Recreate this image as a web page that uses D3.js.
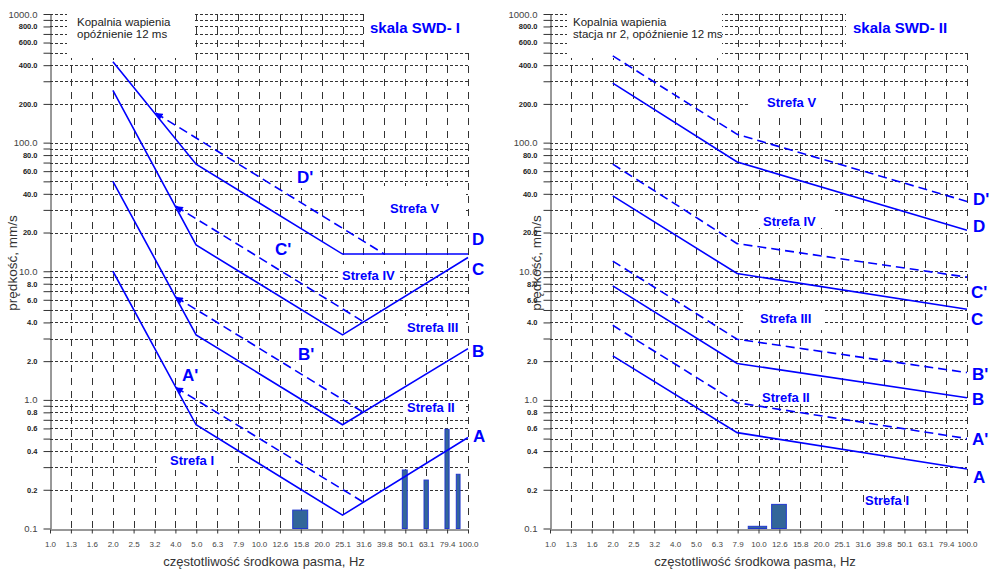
<!DOCTYPE html>
<html>
<head>
<meta charset="utf-8">
<script src="https://cdn.jsdelivr.net/npm/d3@7"></script>
<style>
  html, body { margin: 0; padding: 0; background: #fff; }
  svg { display: block; font-family: "Liberation Sans", Arial, sans-serif; }
</style>
</head>
<body>
<svg id="chart" width="990" height="569"></svg>
<script>
// ---- frequency axis: one-third-octave band labels (Hz) ----
const bandLabels = ["1.0","1.3","1.6","2.0","2.5","3.2","4.0","5.0","6.3","7.9","10.0",
                    "12.6","15.8","20.0","25.1","31.6","39.8","50.1","63.1","79.4","100.0"];

// ---- velocity axis (mm/s) ----
const velocityGrid = [0.2,0.3,0.4,0.5,0.6,0.7,0.8,0.9,1,2,3,4,5,6,7,8,9,10,
                      20,30,40,50,60,70,80,90,100,200,300,400,500,600,700,800,900,1000];
const velocityLabelled = [0.1,0.2,0.4,0.6,0.8,1,2,4,6,8,10,20,40,60,80,100,200,400,600,800,1000];
const velocityDecades = [0.1,1,10,100,1000];

// ---- SWD-I limit lines ----
const swd1Freq = [2.0, 5.0, 25.1, 100.0];
const swd1A = [10, 0.64, 0.127, 0.51];
const swd1B = [50, 3.2, 0.64, 2.5];
const swd1C = [255, 16, 3.2, 12.8];
const swd1D = [425, 68, 13.6, 13.6];
const swd1FreqDp = [3.2, 39.8];
const swd1Dp = [170, 13.6];
const swd1FreqPrime = [4.0, 31.6];
const swd1Ap = [1.25, 0.16];
const swd1Bp = [6.3, 0.8];
const swd1Cp = [32, 4.05];

// measured band spectrum, SWD-I station (band edges in Hz, peak velocity mm/s)
const swd1BarLow   = [14.5, 48.5, 61.6, 77.6, 87.9];
const swd1BarHigh  = [17.1, 51.2, 64.6, 81.2, 91.6];
const swd1BarValue = [0.139, 0.285, 0.238, 0.59, 0.264];

// ---- SWD-II limit lines ----
const swd2Freq = [2.0, 7.9, 100.0];
const swd2A  = [2.2, 0.556, 0.29];
const swd2Ap = [3.8, 0.95, 0.5];
const swd2B  = [7.7, 1.92, 1.04];
const swd2Bp = [12, 2.96, 1.63];
const swd2C  = [38.5, 9.6, 5.06];
const swd2Cp = [68, 16.4, 9.0];
const swd2D  = [290, 70.8, 20.8];
const swd2Dp = [473, 116, 34.9];

// measured band spectrum, station nr 2
const swd2BarLow   = [8.93, 11.56];
const swd2BarHigh  = [10.94, 13.6];
const swd2BarValue = [0.104, 0.154];

// ---------------------------------------------------------------
const zip = (xs, ys) => xs.map((v, i) => [v, ys[i]]);
const BLUE = "#0000ff";
const svg = d3.select("#chart");

const defs = svg.append("defs");
defs.append("marker")
  .attr("id", "arrowhead")
  .attr("viewBox", "0 0 10 10")
  .attr("refX", 10).attr("refY", 5)
  .attr("markerWidth", 8).attr("markerHeight", 7)
  .attr("markerUnits", "userSpaceOnUse")
  .attr("orient", "auto-start-reverse")
  .append("path").attr("d", "M0,0 L10,5 L0,10 z").attr("fill", BLUE);

const y = d3.scaleLog().domain([0.1, 1000]).range([528.5, 14]);
// nominal base-10 third-octave centre frequencies behind the rounded labels
const bandCentres = bandLabels.map((_, i) => Math.pow(10, i / 10));

function drawPanel(cfg) {
  const x = d3.scaleLog().domain([1, 100]).range([cfg.x0, cfg.x1]);
  const g = svg.append("g");
  const px = v => Math.round(v) + 0.5;

  // horizontal grid (dotted)
  g.append("g").selectAll("line").data(velocityGrid).join("line")
    .attr("x1", cfg.x0).attr("x2", cfg.x1)
    .attr("y1", d => px(y(d))).attr("y2", d => px(y(d)))
    .attr("stroke", "#333").attr("stroke-width", 1)
    .attr("stroke-dasharray", "3,2");

  // vertical grid (dashed)
  g.append("g").selectAll("line").data(bandCentres.slice(1)).join("line")
    .attr("x1", d => px(x(d))).attr("x2", d => px(x(d)))
    .attr("y1", y(1000)).attr("y2", y(0.1))
    .attr("stroke", "#333").attr("stroke-width", 1)
    .attr("stroke-dasharray", "7,6");

  // white label boxes laid over the grid
  g.append("g").selectAll("rect").data(cfg.boxes).join("rect")
    .attr("x", d => d[0]).attr("y", d => d[1])
    .attr("width", d => d[2]).attr("height", d => d[3])
    .attr("fill", "#fff");

  // y axis
  const yAxis = d3.axisLeft(y)
    .tickValues([0.1].concat(velocityGrid))
    .tickSize(7).tickSizeOuter(0).tickPadding(6)
    .tickFormat(d => velocityLabelled.some(v => Math.abs(v - d) < 1e-9) ? d3.format(".1f")(d) : "");
  const ya = g.append("g").attr("transform", `translate(${px(cfg.x0)},0)`).call(yAxis);
  ya.select(".domain").attr("stroke", "#333");
  ya.selectAll(".tick line").attr("stroke", "#333");
  ya.selectAll(".tick text")
    .attr("font-family", "'Liberation Sans', Arial, sans-serif")
    .attr("font-size", d => velocityDecades.includes(d) ? 9.5 : 7.5)
    .attr("font-weight", d => velocityDecades.includes(d) ? "normal" : "bold")
    .attr("fill", d => velocityDecades.includes(d) ? "#444" : "#222");

  // x axis
  const xAxis = d3.axisBottom(x)
    .tickValues(bandCentres)
    .tickSize(4).tickSizeOuter(0).tickPadding(8)
    .tickFormat((d, i) => bandLabels[i]);
  const xa = g.append("g").attr("transform", `translate(0,${px(y(0.1))})`).call(xAxis);
  xa.select(".domain").attr("stroke", "#333");
  xa.selectAll(".tick line").attr("stroke", "#333");
  xa.selectAll(".tick text")
    .attr("font-family", "'Liberation Sans', Arial, sans-serif")
    .attr("font-size", 8).attr("fill", "#444");

  // measured spectrum bars
  g.append("g").selectAll("rect").data(cfg.bars).join("rect")
    .attr("x", d => x(d.lo)).attr("width", d => x(d.hi) - x(d.lo))
    .attr("y", d => y(d.v)).attr("height", d => y(0.1) - y(d.v))
    .attr("fill", "#336699").attr("stroke", "#2238d0").attr("stroke-width", 1);

  // limit lines
  const line = d3.line().x(d => x(d[0])).y(d => y(d[1]));
  g.append("g").selectAll("path").data(cfg.lines).join("path")
    .attr("d", d => line(d.pts))
    .attr("fill", "none").attr("stroke", BLUE).attr("stroke-width", 1.6)
    .attr("stroke-dasharray", d => d.dashed ? "9,5" : null)
    .attr("marker-start", d => d.arrow ? "url(#arrowhead)" : null);

  // texts
  g.append("g").selectAll("text").data(cfg.texts).join("text")
    .attr("x", d => d.x).attr("y", d => d.y)
    .attr("font-size", d => d.size)
    .attr("font-weight", d => d.bold ? "bold" : "normal")
    .attr("fill", d => d.color || BLUE)
    .text(d => d.t);

  // axis titles
  g.append("text")
    .attr("x", cfg.xTitleX).attr("y", 566)
    .attr("text-anchor", "middle").attr("font-size", 13).attr("fill", "#333")
    .text("częstotliwość środkowa pasma, Hz");
  g.append("text")
    .attr("transform", `translate(${cfg.yTitleX},263) rotate(-90)`)
    .attr("text-anchor", "middle").attr("font-size", 13.5).attr("fill", "#333")
    .text("prędkość, mm/s");
}

const titleStyle = { size: 11.5, bold: false, color: "#222" };
const letter = 17, zone = 13;

drawPanel({
  x0: 50, x1: 468, xTitleX: 264, yTitleX: 17,
  boxes: [[67,0,126,58],[364,0,130,48],[292,166,28,22],[364,186,102,36],[272,240,24,18],
          [338,264,60,17],[390,316,76,20],[403,403,63,13],[157,453,71,17],[296,344,22,20],[179,365,22,20]],
  bars: swd1BarValue.map((v, i) => ({ lo: swd1BarLow[i], hi: swd1BarHigh[i], v })),
  lines: [
    { pts: zip(swd1Freq, swd1A) }, { pts: zip(swd1Freq, swd1B) },
    { pts: zip(swd1Freq, swd1C) }, { pts: zip(swd1Freq, swd1D) },
    { pts: zip(swd1FreqPrime, swd1Ap), dashed: true, arrow: true },
    { pts: zip(swd1FreqPrime, swd1Bp), dashed: true, arrow: true },
    { pts: zip(swd1FreqPrime, swd1Cp), dashed: true, arrow: true },
    { pts: zip(swd1FreqDp, swd1Dp), dashed: true, arrow: true }
  ],
  texts: [
    { t: "Kopalnia wapienia", x: 77, y: 26, ...titleStyle },
    { t: "opóźnienie 12 ms", x: 77, y: 38, ...titleStyle },
    { t: "skala SWD- I", x: 370, y: 33, size: 15, bold: true },
    { t: "D'", x: 297, y: 183, size: letter, bold: true },
    { t: "C'", x: 275, y: 255, size: letter, bold: true },
    { t: "B'", x: 298, y: 360, size: letter, bold: true },
    { t: "A'", x: 182, y: 381, size: letter, bold: true },
    { t: "D", x: 472, y: 245, size: letter, bold: true },
    { t: "C", x: 472, y: 275, size: letter, bold: true },
    { t: "B", x: 472, y: 357, size: letter, bold: true },
    { t: "A", x: 473, y: 442, size: letter, bold: true },
    { t: "Strefa V", x: 390, y: 213, size: zone, bold: true },
    { t: "Strefa IV", x: 342, y: 280, size: zone, bold: true },
    { t: "Strefa III", x: 407, y: 332, size: zone, bold: true },
    { t: "Strefa II", x: 407, y: 412, size: zone, bold: true },
    { t: "Strefa I", x: 170, y: 465, size: zone, bold: true }
  ]
});

drawPanel({
  x0: 550, x1: 967, xTitleX: 755, yTitleX: 541,
  boxes: [[567,0,155,58],[846,0,144,48],[750,92,90,26],[758,200,75,28],[743,303,82,27],
          [748,386,70,17],[850,458,77,32]],
  bars: swd2BarValue.map((v, i) => ({ lo: swd2BarLow[i], hi: swd2BarHigh[i], v })),
  lines: [
    { pts: zip(swd2Freq, swd2A) }, { pts: zip(swd2Freq, swd2B) },
    { pts: zip(swd2Freq, swd2C) }, { pts: zip(swd2Freq, swd2D) },
    { pts: zip(swd2Freq, swd2Ap), dashed: true }, { pts: zip(swd2Freq, swd2Bp), dashed: true },
    { pts: zip(swd2Freq, swd2Cp), dashed: true }, { pts: zip(swd2Freq, swd2Dp), dashed: true }
  ],
  texts: [
    { t: "Kopalnia wapienia", x: 573, y: 26, ...titleStyle },
    { t: "stacja nr 2, opóźnienie 12 ms", x: 573, y: 38, ...titleStyle },
    { t: "skala SWD- II", x: 853, y: 33, size: 15, bold: true },
    { t: "D'", x: 973, y: 205, size: letter, bold: true },
    { t: "D", x: 973, y: 232, size: letter, bold: true },
    { t: "C'", x: 971, y: 298, size: letter, bold: true },
    { t: "C", x: 971, y: 325, size: letter, bold: true },
    { t: "B'", x: 972, y: 380, size: letter, bold: true },
    { t: "B", x: 972, y: 405, size: letter, bold: true },
    { t: "A'", x: 972, y: 445, size: letter, bold: true },
    { t: "A", x: 973, y: 483, size: letter, bold: true },
    { t: "Strefa V", x: 767, y: 107, size: zone, bold: true },
    { t: "Strefa IV", x: 763, y: 226, size: zone, bold: true },
    { t: "Strefa III", x: 760, y: 323, size: zone, bold: true },
    { t: "Strefa II", x: 762, y: 402, size: zone, bold: true },
    { t: "Strefa I", x: 865, y: 505, size: zone, bold: true }
  ]
});
</script>
</body>
</html>
